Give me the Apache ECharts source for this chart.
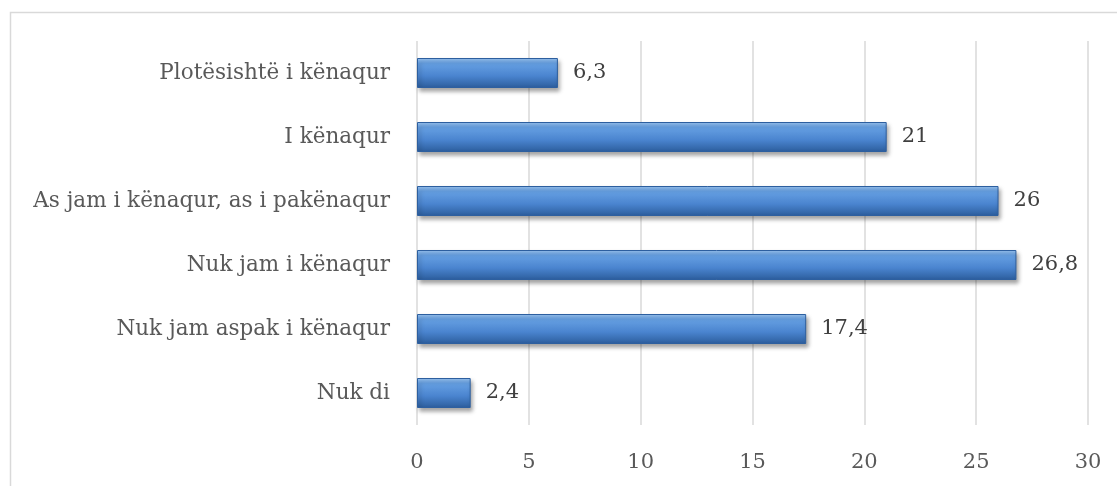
<!DOCTYPE html>
<html>
<head>
<meta charset="utf-8">
<script src="https://cdn.jsdelivr.net/npm/echarts@6/dist/echarts.min.js"></script>
<style>
html,body{margin:0;padding:0;background:#fff;}
#c{width:1117px;height:486px;}
</style>
</head>
<body>
<div id="c"></div>
<script>
const categories = ["Nuk di", "Nuk jam aspak i kënaqur", "Nuk jam i kënaqur", "As jam i kënaqur, as i pakënaqur", "I kënaqur", "Plotësishtë i kënaqur"];
const values = [2.4, 17.4, 26.8, 26, 21, 6.3];
const xTicks = [0, 5, 10, 15, 20, 25, 30];

const FONT = "DejaVu Serif";
const chart = echarts.init(document.getElementById('c'), null, {renderer: 'canvas'});
chart.setOption({
  animation: false,
  backgroundColor: '#ffffff',
  graphic: [{
    type: 'rect',
    shape: {x: 10.5, y: 12.5, width: 1300, height: 700},
    style: {fill: 'none', stroke: '#d9d9d9', lineWidth: 1.5},
    silent: true, z: -1
  }],
  grid: {left: 417, right: 29, top: 41, bottom: 61, containLabel: false},
  xAxis: {
    type: 'value',
    min: xTicks[0], max: xTicks[xTicks.length - 1], interval: 5,
    axisLine: {show: false},
    axisTick: {show: false},
    splitLine: {show: true, lineStyle: {color: '#d9d9d9', width: 1.5}},
    axisLabel: {color: '#595959', fontFamily: FONT, fontSize: 21, margin: 27}
  },
  yAxis: {
    type: 'category',
    data: categories,
    axisLine: {show: false},
    axisTick: {show: false},
    axisLabel: {color: '#595959', fontFamily: FONT, fontSize: 21.5, margin: 27}
  },
  series: [{
    type: 'bar',
    data: values,
    barWidth: 30,
    itemStyle: {
      color: new echarts.graphic.LinearGradient(0, 0, 0, 1, [
        {offset: 0, color: '#9cc6f3'},
        {offset: 0.18, color: '#66a0e3'},
        {offset: 0.6, color: '#4a84cf'},
        {offset: 1, color: '#2c5d9c'}
      ]),
      borderColor: '#2d5f9f',
      borderWidth: 1,
      shadowColor: 'rgba(0,0,0,0.35)',
      shadowBlur: 4,
      shadowOffsetX: 2,
      shadowOffsetY: 3
    },
    label: {
      show: true,
      position: 'right',
      distance: 15,
      color: '#404040',
      fontFamily: FONT,
      fontSize: 21,
      formatter: p => String(p.value).replace('.', ',')
    }
  }]
});
</script>
</body>
</html>
